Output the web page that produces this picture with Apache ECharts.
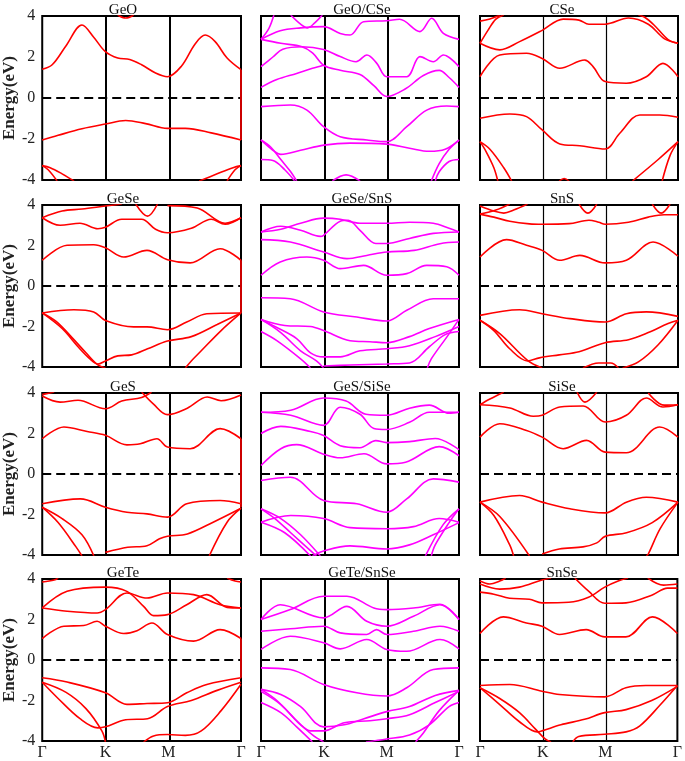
<!DOCTYPE html>
<html><head><meta charset="utf-8">
<script src="https://cdn.jsdelivr.net/npm/echarts@6/dist/echarts.min.js"></script>
<style>html,body{margin:0;padding:0;background:#fff}#c{width:685px;height:761px}</style>
</head><body><div id="c"></div>
<script>
const titles = ['GeO','GeO/CSe','CSe','GeSe','GeSe/SnS','SnS','GeS','GeS/SiSe','SiSe','GeTe','GeTe/SnSe','SnSe'];
const xTickLabels = ['Γ','K','M','Γ'];
const xTickValues = [0, 0.318, 0.635, 1];
const yTickValues = [-4, -2, 0, 2, 4];
const yAxisName = 'Energy(eV)';

const GeO = [
 [[0,1.4],[0.05,1.62],[0.12,2.55],[0.2,3.56],[0.26,2.95],[0.318,2.26],[0.38,1.95],[0.44,1.88],[0.5,1.62],[0.57,1.22],[0.63,1.04],[0.7,1.55],[0.77,2.65],[0.82,3.07],[0.87,2.75],[0.93,1.95],[1,1.38]],
 [[0.38,4.05],[0.42,3.9],[0.46,4.05]],
 [[0,-2.05],[0.08,-1.82],[0.2,-1.5],[0.318,-1.27],[0.42,-1.1],[0.52,-1.25],[0.63,-1.48],[0.72,-1.48],[0.85,-1.7],[1,-2.05]],
 [[0,-3.3],[0.04,-3.4],[0.1,-3.7],[0.16,-4.05]],
 [[0,-3.3],[0.03,-3.5],[0.075,-4.05]],
 [[1,-3.3],[0.96,-3.4],[0.88,-3.7],[0.79,-4.05]],
 [[1,-3.3],[0.97,-3.5],[0.93,-4.05]],
 [[1,1.38],[1,-2.05]]
];
const GeO_CSe = [
 [[0,2.86],[0.04,3.4],[0.065,4.05]],
 [[0.15,4.05],[0.2,3.6],[0.235,3.42],[0.27,3.65],[0.31,4.05]],
 [[0,2.86],[0.097,3.28],[0.2,3.42],[0.316,3.48],[0.4,3.15],[0.45,3.07],[0.518,3.72],[0.635,3.77],[0.7,3.84],[0.803,3.24],[0.862,3.89],[0.921,3.15],[1,2.86]],
 [[0,2.86],[0.1,2.67],[0.207,2.5],[0.26,2.2],[0.316,1.6],[0.4,1.35],[0.5,1.15],[0.57,0.6],[0.635,0.07],[0.73,0.45],[0.82,1.1],[0.9,1.35],[0.95,1.0],[1,0.52]],
 [[0,1.53],[0.06,2.0],[0.11,2.38],[0.207,2.5],[0.316,2.37],[0.4,2.02],[0.48,1.77],[0.535,2.1],[0.585,1.69],[0.635,1.04],[0.736,1.04],[0.803,2.02],[0.87,1.77],[0.921,2.1],[1,1.53]],
 [[0,0.52],[0.08,0.9],[0.18,1.2],[0.26,1.45],[0.316,1.6]],
 [[0,-0.42],[0.148,-0.34],[0.232,-0.59],[0.316,-1.4],[0.4,-1.89],[0.535,-2.05],[0.635,-2.13],[0.736,-1.4],[0.837,-0.59],[0.938,-0.39],[1,-0.42]],
 [[0,-2.05],[0.06,-2.55],[0.1,-2.75],[0.2,-2.55],[0.318,-2.3],[0.45,-2.2],[0.635,-2.25],[0.75,-2.45],[0.85,-2.6],[0.93,-2.5],[1,-2.05]],
 [[0,-2.05],[0.05,-2.4],[0.1,-3.0],[0.15,-3.6],[0.18,-4.05]],
 [[0,-3.0],[0.06,-3.05],[0.12,-3.5],[0.17,-4.05]],
 [[1,-2.05],[0.95,-2.5],[0.9,-3.2],[0.86,-4.05]],
 [[1,-3.0],[0.95,-3.1],[0.9,-3.6],[0.88,-4.05]],
 [[0.36,-4.05],[0.43,-3.75],[0.5,-4.05]]
];
const CSe = [
 [[0,1.04],[0.1,2.1],[0.235,2.18],[0.314,1.93],[0.403,1.45],[0.529,1.85],[0.571,1.53],[0.632,0.8],[0.739,0.72],[0.84,1.04],[0.924,1.69],[1,1.04]],
 [[0,2.67],[0.1,2.35],[0.2,2.75],[0.314,3.3],[0.42,3.85],[0.5,3.8],[0.55,3.6],[0.632,3.6],[0.75,3.9],[0.85,3.6],[0.93,2.9],[1,2.67]],
 [[0,2.67],[0.04,3.3],[0.08,3.85],[0.12,4.05]],
 [[1,2.67],[0.95,2.85],[0.88,3.55],[0.83,3.95],[0.8,4.05]],
 [[0,3.75],[0.05,3.85],[0.1,4.05]],
 [[0,-0.99],[0.151,-0.78],[0.235,-0.91],[0.314,-1.56],[0.403,-2.24],[0.504,-2.33],[0.632,-2.49],[0.706,-1.72],[0.807,-0.83],[0.908,-0.83],[1,-0.94]],
 [[0,-2.13],[0.05,-2.5],[0.12,-3.4],[0.16,-4.05]],
 [[0,-2.13],[0.03,-2.6],[0.07,-3.4],[0.09,-4.05]],
 [[1,-2.13],[0.9,-3.0],[0.77,-4.05]],
 [[1,-2.13],[0.96,-2.8],[0.92,-4.05]],
 [[0.4,-4.05],[0.425,-3.93],[0.45,-4.05]]
];
const GeSe = [
 [[0,1.27],[0.125,2.01],[0.259,2.04],[0.318,1.89],[0.41,1.43],[0.527,1.76],[0.63,1.3],[0.744,1.14],[0.895,1.84],[1,1.27]],
 [[0,3.37],[0.09,3.0],[0.19,3.1],[0.28,2.83],[0.318,2.9],[0.4,3.3],[0.5,3.3],[0.57,2.8],[0.63,2.63],[0.75,2.85],[0.85,3.3],[0.92,3.05],[1,3.37]],
 [[0,3.37],[0.1,3.7],[0.2,3.8],[0.318,3.95],[0.4,4.05]],
 [[0.47,4.05],[0.53,3.45],[0.58,4.05]],
 [[0.63,3.97],[0.78,3.85],[0.92,3.1],[1,3.37]],
 [[0,-1.33],[0.159,-1.17],[0.259,-1.28],[0.318,-1.7],[0.46,-2.02],[0.527,-2.02],[0.63,-2.16],[0.727,-1.78],[0.828,-1.37],[1,-1.33]],
 [[0,-1.33],[0.07,-1.75],[0.15,-2.55],[0.22,-3.3],[0.28,-3.9],[0.318,-4.05]],
 [[0,-1.33],[0.1,-2.1],[0.18,-3.0],[0.24,-3.6],[0.28,-3.85],[0.318,-3.7],[0.38,-3.45],[0.45,-3.4],[0.53,-3.1],[0.63,-2.72],[0.75,-2.5],[0.88,-1.9],[1,-1.33]],
 [[1,-1.33],[0.9,-2.2],[0.8,-3.2],[0.75,-3.7],[0.72,-4.05]],
 [[1,1.27],[1,-1.33]]
];
const GeSe_SnS = [
 [[0,0.53],[0.097,1.19],[0.232,1.43],[0.316,1.27],[0.4,0.86],[0.518,1.02],[0.635,0.53],[0.736,0.61],[0.837,1.02],[0.938,0.95],[1,0.53]],
 [[0,2.29],[0.148,2.17],[0.316,1.68],[0.434,1.35],[0.534,1.51],[0.635,1.68],[0.773,1.76],[0.904,2.09],[1,2.17]],
 [[0,2.67],[0.1,2.95],[0.2,2.75],[0.3,2.45],[0.316,2.5],[0.4,3.2],[0.44,3.25],[0.5,2.75],[0.58,2.1],[0.635,2.1],[0.75,2.35],[0.87,2.6],[1,2.67]],
 [[0,2.67],[0.1,2.8],[0.2,3.1],[0.316,3.35],[0.4,3.3],[0.5,3.1],[0.635,3.1],[0.75,3.15],[0.87,3.1],[0.95,2.85],[1,2.67]],
 [[0,-0.58],[0.148,-0.63],[0.316,-1.28],[0.484,-1.53],[0.635,-1.73],[0.736,-1.2],[0.87,-0.63],[1,-0.63]],
 [[0,-1.65],[0.12,-1.95],[0.25,-2.0],[0.316,-2.2],[0.45,-2.7],[0.55,-2.75],[0.635,-2.8],[0.75,-2.5],[0.85,-2.1],[1,-1.65]],
 [[0,-1.65],[0.1,-2.3],[0.2,-3.2],[0.28,-3.7],[0.316,-4.05]],
 [[0,-1.65],[0.08,-2.05],[0.18,-2.6],[0.25,-3.3],[0.316,-3.5],[0.4,-3.5],[0.5,-3.2],[0.635,-3.1],[0.75,-2.95],[0.88,-2.5],[1,-2.0]],
 [[0,-2.25],[0.08,-2.7],[0.2,-3.6],[0.25,-4.05]],
 [[0.316,-3.95],[0.45,-3.9],[0.635,-3.85],[0.75,-3.8],[0.85,-3.0],[0.93,-2.4],[1,-2.25]],
 [[1,-1.65],[0.94,-2.5],[0.86,-3.6],[0.84,-4.05]]
];
const SnS = [
 [[0,1.43],[0.134,2.29],[0.235,2.01],[0.314,1.76],[0.403,1.27],[0.504,1.51],[0.632,1.14],[0.739,1.27],[0.874,2.17],[1,1.47]],
 [[0,3.55],[0.07,3.4],[0.15,3.2],[0.25,3.07],[0.314,3.05],[0.45,3.08],[0.55,3.25],[0.6,3.15],[0.632,3.05],[0.75,3.15],[0.85,3.4],[0.93,3.52],[1,3.52]],
 [[0,3.55],[0.08,3.75],[0.15,4.05]],
 [[0,3.95],[0.07,3.7],[0.12,3.6],[0.17,3.75],[0.24,4.05]],
 [[0.5,4.05],[0.545,3.6],[0.59,4.05]],
 [[0.87,4.05],[0.915,3.6],[0.96,4.05]],
 [[0,-1.45],[0.2,-1.17],[0.314,-1.37],[0.454,-1.61],[0.632,-1.78],[0.739,-1.37],[0.84,-1.28],[1,-1.5]],
 [[0,-1.69],[0.1,-2.35],[0.24,-3.67],[0.314,-4.05]],
 [[0,-1.69],[0.07,-2.2],[0.15,-3.1],[0.24,-3.7],[0.3,-3.55],[0.4,-3.4],[0.5,-3.25],[0.632,-2.8],[0.75,-2.65],[0.85,-2.3],[0.95,-1.85],[1,-1.69]],
 [[1,-1.69],[0.9,-2.9],[0.8,-3.75],[0.72,-4.05]],
 [[0.52,-4.05],[0.6,-3.8],[0.66,-3.8],[0.7,-4.05]]
];
const GeS = [
 [[0,1.74],[0.109,2.32],[0.226,2.1],[0.318,1.91],[0.426,1.44],[0.493,1.49],[0.577,1.74],[0.63,1.33],[0.744,1.25],[0.895,2.24],[1,1.74]],
 [[0,3.85],[0.09,3.55],[0.18,3.64],[0.318,3.22],[0.4,3.6],[0.5,3.78],[0.55,4.05]],
 [[0.5,4.05],[0.56,3.45],[0.63,2.93],[0.73,3.25],[0.83,3.8],[0.9,3.62],[1,3.9]],
 [[0,3.92],[0.06,4.05]],
 [[0,-1.47],[0.192,-1.23],[0.318,-1.64],[0.426,-1.89],[0.527,-1.97],[0.63,-2.13],[0.727,-1.47],[0.895,-1.31],[1,-1.47]],
 [[0,-1.64],[0.08,-2.4],[0.17,-3.6],[0.2,-4.05]],
 [[0,-1.64],[0.1,-2.2],[0.2,-3.0],[0.26,-4.05]],
 [[0.318,-3.87],[0.43,-3.62],[0.527,-3.54],[0.59,-3.2],[0.63,-3.07],[0.73,-2.96],[0.86,-2.38],[1,-1.69]],
 [[1,-1.69],[0.93,-2.38],[0.84,-4.05]],
 [[1,1.74],[1,-1.64]]
];
const GeS_SiSe = [
 [[0,0.42],[0.1,1.25],[0.18,1.45],[0.316,0.98],[0.4,0.8],[0.52,1.0],[0.635,0.5],[0.73,0.58],[0.9,1.35],[1,0.9]],
 [[0,2.0],[0.1,2.35],[0.25,2.1],[0.316,1.9],[0.4,1.4],[0.5,1.3],[0.58,1.65],[0.635,1.55],[0.75,1.6],[0.88,1.75],[1,1.2]],
 [[0,3.05],[0.15,2.9],[0.316,2.4],[0.4,3.3],[0.5,2.95],[0.57,2.25],[0.635,2.2],[0.75,2.55],[0.85,3.05],[1,3.05]],
 [[0,3.05],[0.15,3.15],[0.316,3.75],[0.43,3.6],[0.53,2.95],[0.635,2.9],[0.75,3.25],[0.85,3.4],[0.95,3.0],[1,3.05]],
 [[0,-0.32],[0.148,-0.16],[0.316,-1.31],[0.484,-1.47],[0.635,-1.89],[0.736,-1.23],[0.87,-0.24],[1,-0.4]],
 [[0,-1.72],[0.07,-2.2],[0.15,-2.9],[0.24,-3.7],[0.28,-4.05]],
 [[0,-1.72],[0.1,-2.2],[0.2,-3.0],[0.3,-4.05]],
 [[0,-2.38],[0.15,-2.05],[0.316,-2.2],[0.45,-2.65],[0.635,-2.7],[0.77,-2.6],[0.9,-2.2],[1,-2.38]],
 [[0,-2.38],[0.12,-2.9],[0.25,-4.05]],
 [[0.26,-4.05],[0.316,-3.8],[0.45,-3.55],[0.635,-3.7],[0.75,-3.5],[0.87,-3.0],[1,-2.4]],
 [[1,-1.72],[0.95,-2.4],[0.88,-3.5],[0.86,-4.05]],
 [[1,-1.72],[0.92,-2.5],[0.83,-4.05]]
];
const SiSe = [
 [[0,1.82],[0.1,2.48],[0.235,2.15],[0.314,1.82],[0.42,1.25],[0.538,1.66],[0.632,1.08],[0.739,1.05],[0.908,2.32],[1,1.82]],
 [[0,3.42],[0.151,3.26],[0.269,2.85],[0.314,2.9],[0.403,3.31],[0.521,3.36],[0.632,2.57],[0.739,2.9],[0.84,3.75],[0.924,3.31],[1,3.42]],
 [[0,3.42],[0.05,3.7],[0.1,3.95],[0.12,4.05]],
 [[0.49,4.05],[0.53,3.55],[0.59,4.05]],
 [[0.85,4.0],[0.93,3.4],[1,3.42]],
 [[0,-1.39],[0.2,-1.06],[0.314,-1.39],[0.454,-1.72],[0.632,-1.92],[0.739,-1.39],[0.84,-1.15],[1,-1.39]],
 [[0,-1.39],[0.07,-2.05],[0.15,-3.5],[0.17,-4.05]],
 [[0,-1.39],[0.1,-2.1],[0.25,-4.05]],
 [[0.314,-3.95],[0.4,-3.7],[0.52,-3.6],[0.59,-3.4],[0.632,-3.08],[0.74,-2.9],[0.87,-2.4],[1,-1.39]],
 [[1,-1.39],[0.91,-2.7],[0.85,-3.95],[0.84,-4.05]]
];
const GeTe = [
 [[0,1.06],[0.109,1.67],[0.209,1.7],[0.276,1.91],[0.318,1.67],[0.41,1.31],[0.477,1.45],[0.552,1.83],[0.63,1.26],[0.761,0.93],[0.895,1.5],[1,1.06]],
 [[0,2.57],[0.125,2.41],[0.276,2.32],[0.318,2.49],[0.426,3.31],[0.527,3.06],[0.63,3.31],[0.761,3.23],[0.895,2.73],[1,2.57]],
 [[0,2.57],[0.125,3.39],[0.318,3.6],[0.426,3.39],[0.51,2.65],[0.56,2.19],[0.63,2.24],[0.727,2.73],[0.828,3.23],[0.93,2.6],[1,2.57]],
 [[0,3.85],[0.06,3.95],[0.08,4.05]],
 [[0.93,4.05],[0.97,3.9],[1,3.85]],
 [[0,-0.88],[0.125,-1.09],[0.318,-1.62],[0.426,-2.19],[0.527,-2.15],[0.63,-2.11],[0.727,-1.62],[0.828,-1.21],[1,-0.88]],
 [[0,-1.1],[0.08,-1.9],[0.19,-2.9],[0.28,-3.35],[0.318,-3.3],[0.42,-2.95],[0.53,-2.9],[0.63,-2.3],[0.75,-2.0],[0.88,-1.5],[1,-1.1]],
 [[0,-1.1],[0.12,-1.6],[0.22,-2.4],[0.3,-3.5],[0.318,-4.05]],
 [[0.51,-4.05],[0.56,-3.75],[0.63,-3.68],[0.72,-3.72],[0.8,-3.5],[0.9,-2.5],[1,-1.2]],
 [[1,1.06],[1,-0.88]]
];
const GeTe_SnSe = [
 [[0,0.52],[0.148,1.17],[0.316,0.85],[0.4,0.55],[0.534,1.01],[0.635,0.52],[0.736,0.43],[0.904,1.01],[1,0.55]],
 [[0,1.42],[0.148,1.54],[0.316,1.67],[0.4,1.34],[0.534,1.26],[0.584,1.5],[0.635,1.26],[0.77,1.42],[0.904,1.67],[1,1.42]],
 [[0,2.0],[0.097,2.73],[0.316,2.08],[0.434,2.65],[0.534,1.91],[0.635,1.67],[0.77,2.16],[0.904,2.73],[1,2.0]],
 [[0,2.0],[0.148,2.49],[0.316,3.15],[0.434,3.15],[0.57,2.57],[0.635,2.49],[0.77,2.57],[0.904,2.75],[1,2.0]],
 [[0,-0.39],[0.148,-0.47],[0.316,-1.21],[0.484,-1.62],[0.635,-1.78],[0.736,-1.37],[0.87,-0.47],[1,-0.39]],
 [[0,-1.45],[0.1,-1.7],[0.2,-2.3],[0.316,-3.3],[0.42,-3.2],[0.52,-2.9],[0.635,-2.55],[0.75,-2.3],[0.88,-1.75],[1,-1.5]],
 [[0,-1.45],[0.08,-2.0],[0.18,-3.0],[0.26,-3.7],[0.316,-4.05]],
 [[0,-1.55],[0.1,-2.2],[0.2,-3.2],[0.25,-3.5],[0.316,-3.5],[0.42,-3.1],[0.55,-3.0],[0.635,-2.9],[0.75,-2.7],[0.88,-2.1],[1,-1.55]],
 [[0,-2.1],[0.1,-2.6],[0.18,-3.3],[0.26,-4.05]],
 [[0.53,-4.05],[0.635,-3.9],[0.75,-3.7],[0.85,-3.2],[0.95,-2.3],[1,-2.1]],
 [[1,-1.5],[0.9,-2.5],[0.82,-3.6],[0.78,-4.05]]
];
const SnSe = [
 [[0,1.31],[0.118,2.13],[0.235,1.83],[0.314,1.67],[0.403,1.26],[0.538,1.5],[0.632,1.14],[0.739,1.14],[0.874,2.13],[1,1.31]],
 [[0,3.35],[0.07,3.25],[0.15,3.05],[0.25,3.0],[0.314,2.82],[0.45,2.85],[0.55,3.1],[0.632,3.6],[0.7,3.9],[0.75,4.05]],
 [[0.48,4.05],[0.55,3.4],[0.632,2.8],[0.74,2.82],[0.87,3.2],[0.95,3.55],[1,3.55]],
 [[0,3.75],[0.1,3.5],[0.2,3.6],[0.314,3.95],[0.36,4.05]],
 [[0,3.9],[0.05,3.75],[0.1,3.9],[0.13,4.05]],
 [[0.85,4.05],[0.93,3.7],[1,3.75]],
 [[0,-1.26],[0.151,-1.21],[0.314,-1.54],[0.403,-1.7],[0.632,-1.82],[0.739,-1.37],[0.84,-1.26],[1,-1.26]],
 [[0,-1.37],[0.1,-2.2],[0.2,-3.05],[0.29,-3.55],[0.314,-3.5],[0.41,-3.2],[0.53,-2.93],[0.632,-2.6],[0.74,-2.45],[0.87,-2.0],[1,-1.3]],
 [[0,-1.37],[0.1,-1.9],[0.2,-2.6],[0.28,-3.4],[0.33,-3.9],[0.36,-4.05]],
 [[1,-1.26],[0.91,-2.25],[0.81,-3.25],[0.74,-3.55],[0.632,-3.67],[0.5,-3.78],[0.47,-4.05]]
];

const panels = [GeO, GeO_CSe, CSe, GeSe, GeSe_SnS, SnS, GeS, GeS_SiSe, SiSe, GeTe, GeTe_SnSe, SnSe];
const RED = '#ff0000', MAG = '#ff00ff';
const panelColors = [RED, MAG, RED, RED, MAG, RED, RED, MAG, RED, RED, MAG, RED];

const colLeft = [42, 261, 480], colW = [199, 198, 198];
const rowTop = [16, 205, 393, 579], rowH = [164, 162, 162, 162];
const titleX = [118, 357, 557];
const serif = '"Liberation Serif", "DejaVu Serif", serif';

const grid = [], xAxis = [], yAxis = [], series = [], title = [];
panels.forEach((bands, i) => {
  const r = Math.floor(i / 3), c = i % 3;
  grid.push({left: colLeft[c], top: rowTop[r], width: colW[c], height: rowH[r],
    show: true, borderColor: '#000', borderWidth: 2, backgroundColor: 'transparent', containLabel: false});
  xAxis.push({type: 'value', gridIndex: i, min: 0, max: 1,
    axisLine: {show: false}, axisTick: {show: false}, splitLine: {show: false},
    axisLabel: r === 3 ? {show: true, customValues: xTickValues, margin: 4, fontSize: 16, fontFamily: serif, color: '#222',
      formatter: v => { const k = xTickValues.findIndex(t => Math.abs(t - v) < 1e-6); return k >= 0 ? xTickLabels[k] : ''; }} : {show: false}});
  yAxis.push({type: 'value', gridIndex: i, min: -4, max: 4, interval: 2,
    axisLine: {show: false}, axisTick: {show: false}, splitLine: {show: false},
    name: c === 0 ? yAxisName : '', nameLocation: 'middle', nameGap: 24,
    nameTextStyle: {fontFamily: serif, fontWeight: 'bold', fontSize: 17, color: '#222'},
    axisLabel: c === 0 ? {show: true, margin: 7, fontSize: 16, fontFamily: serif, color: '#222'} : {show: false}});
  title.push({text: titles[i], left: titleX[c], top: rowTop[r] - 18, textAlign: 'center',
    textStyle: {fontFamily: serif, fontWeight: 'normal', fontSize: 15, color: '#111'}});
  const vw = c === 2 ? 1.2 : 2;
  bands.forEach((b, j) => {
    const s = {type: 'line', xAxisIndex: i, yAxisIndex: i, data: b, smooth: 0.35, showSymbol: false, symbol: 'none',
      clip: true, silent: true, lineStyle: {color: panelColors[i], width: 1.6}, z: 3};
    if (j === 0) {
      s.markLine = {silent: true, symbol: ['none', 'none'], label: {show: false}, z: 2,
        data: [
          {xAxis: xTickValues[1], lineStyle: {color: '#000', width: vw, type: 'solid'}},
          {xAxis: xTickValues[2], lineStyle: {color: '#000', width: vw, type: 'solid'}},
          {yAxis: 0, lineStyle: {color: '#000', width: 2.2, type: [9, 5]}}
        ]};
    }
    series.push(s);
  });
});

const chart = echarts.init(document.getElementById('c'), null, {renderer: 'canvas'});
chart.setOption({animation: false, backgroundColor: '#fff', title, grid, xAxis, yAxis, series});
</script></body></html>
